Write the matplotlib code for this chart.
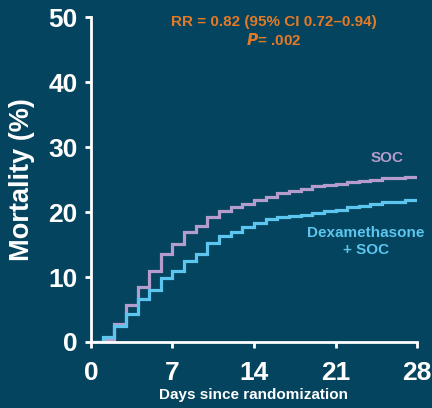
import matplotlib
matplotlib.use("Agg")
import matplotlib.pyplot as plt
import numpy as np

days = list(range(0, 29))
soc = [0, 0.3, 2.8, 5.7, 8.5, 11.0, 13.6, 15.1, 16.9, 17.9, 19.3, 20.2, 20.8, 21.3,
       21.9, 22.4, 23.0, 23.3, 23.6, 24.0, 24.2, 24.4, 24.6, 24.8, 24.9, 25.3, 25.3, 25.4, 25.4]
dexa = [0, 0.8, 2.4, 4.3, 6.6, 8.0, 9.8, 10.9, 12.4, 13.6, 15.2, 16.3, 17.0, 17.7,
        18.4, 18.9, 19.2, 19.4, 19.5, 19.8, 20.2, 20.4, 20.8, 21.0, 21.3, 21.5, 21.6, 21.8, 21.8]
xticks = [0, 7, 14, 21, 28]
yticks = [0, 10, 20, 30, 40, 50]

BG = "#04445e"
PURPLE = "#b49dcc"
BLUE = "#5cc6ef"
ORANGE = "#e47a26"

plt.rcParams['font.family'] = ['Liberation Sans', 'DejaVu Sans']
plt.rcParams['font.weight'] = 'bold'

fig = plt.figure(figsize=(4.32, 4.08), dpi=100, facecolor=BG)
ax = fig.add_axes([0.2106, 0.1618, 0.7547, 0.7958])
ax.set_facecolor(BG)

ax.step(days, soc, where='post', color=PURPLE, lw=2.3, solid_joinstyle='miter')
ax.step(days, dexa, where='post', color=BLUE, lw=2.3, solid_joinstyle='miter')

ax.set_xlim(0, 28)
ax.set_ylim(0, 50)
ax.set_xticks(xticks)
ax.set_yticks(yticks)
ax.set_xticklabels([str(t) for t in xticks], fontsize=19, fontweight='bold', color='white')
ax.set_yticklabels([str(t) for t in yticks], fontsize=19, fontweight='bold', color='white')
ax.tick_params(axis='both', colors='white', width=2, length=4.5, direction='out')
ax.tick_params(axis='y', pad=5)
ax.tick_params(axis='x', pad=9)

for s in ['top', 'right']:
    ax.spines[s].set_visible(False)
for s in ['left', 'bottom']:
    ax.spines[s].set_color('white')
    ax.spines[s].set_linewidth(2)

ax.set_ylabel("Mortality (%)", fontsize=19.5, fontweight='bold', color='white', labelpad=10)
ax.set_xlabel("Days since randomization", fontsize=11, fontweight='bold', color='white', labelpad=2)

ax.text(15.7, 49.3, "RR = 0.82 (95% CI 0.72\u20130.94)", color=ORANGE, fontsize=11,
        fontweight='bold', ha='center', va='center')
ax.text(15.7, 46.5, r"$\bf{\it{P}}$= .002", color=ORANGE, fontsize=11,
        fontweight='bold', ha='center', va='center')
ax.text(25.4, 28.3, "SOC", color=PURPLE, fontsize=11, fontweight='bold',
        ha='center', va='center')
ax.text(23.6, 15.5, "Dexamethasone\n+ SOC", color=BLUE, fontsize=11, fontweight='bold',
        ha='center', va='center', multialignment='center', linespacing=1.3)

fig.savefig("out.png", dpi=100, facecolor=BG)
